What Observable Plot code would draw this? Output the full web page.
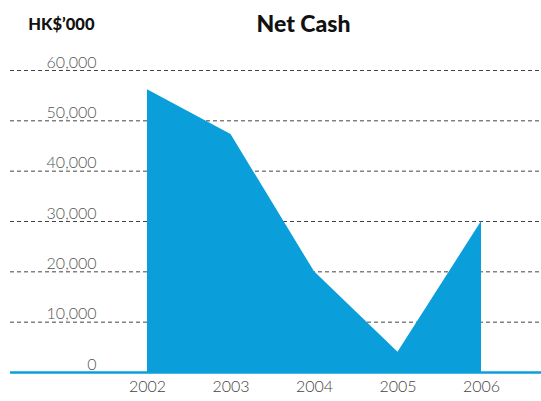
<!DOCTYPE html>
<html><head><meta charset="utf-8">
<script src="https://cdn.jsdelivr.net/npm/d3@7"></script>
<script src="https://cdn.jsdelivr.net/npm/@observablehq/plot@0.6"></script>
<style>body{margin:0;background:#fff}</style>
</head><body><div id="chart"></div>
<script>
const years = [2002, 2003, 2004, 2005, 2006];
const netCash = [56200, 47300, 20000, 4000, 30000];
const yTicks = [0, 10000, 20000, 30000, 40000, 50000, 60000];
const title = "Net Cash";
const unit = "HK$’000";

const data = years.map((year, i) => ({year, value: netCash[i]}));
const blue = "#0a9fda";
const fmt = d3.format(",");

const plot = Plot.plot({
  width: 541, height: 401,
  marginTop: 70, marginBottom: 29, marginLeft: 10, marginRight: 0,
  x: {domain: [2002, 2006], range: [147, 481], axis: null},
  y: {domain: [0, 60000], axis: null},
  style: {fontFamily: "Lato, 'Open Sans', sans-serif", background: "#fff"},
  marks: [
    Plot.ruleY(yTicks.filter(d => d > 0), {stroke: "#444", strokeDasharray: "4,3", strokeWidth: 1}),
    Plot.areaY(data, {x: "year", y: "value", fill: blue}),
    Plot.ruleY([0], {stroke: blue, strokeWidth: 2.5}),
    Plot.text(yTicks, {ariaLabel: "ylabels", y: d => d, frameAnchor: "left", dx: 86, textAnchor: "end", lineAnchor: "bottom", dy: -3, text: d => fmt(d), fontSize: 16, fill: "#555", fontWeight: 300}),
    Plot.text(years, {ariaLabel: "xlabels", x: d => d, frameAnchor: "bottom", dy: 19, text: d => String(d), fontSize: 16, fill: "#444", fontWeight: 300}),
    Plot.text([title], {ariaLabel: "title", frameAnchor: "top-left", dx: 293, dy: -39, lineAnchor: "bottom", textAnchor: "middle", text: d => d, fontSize: 23, fontWeight: 900, fill: "#111"}),
    Plot.text([unit], {ariaLabel: "unit", frameAnchor: "top-left", dx: 84, dy: -41, lineAnchor: "bottom", textAnchor: "end", text: d => d, fontSize: 16.5, fontWeight: 900, fill: "#111"})
  ]
});
d3.select(plot).select('g[aria-label="ylabels"]').style("letter-spacing", "0.6px");
d3.select(plot).select('g[aria-label="xlabels"]').style("letter-spacing", "0.3px");
d3.select(plot).select('g[aria-label="unit"]').style("letter-spacing", "1.1px");
document.getElementById("chart").appendChild(plot);
</script>
</body></html>
